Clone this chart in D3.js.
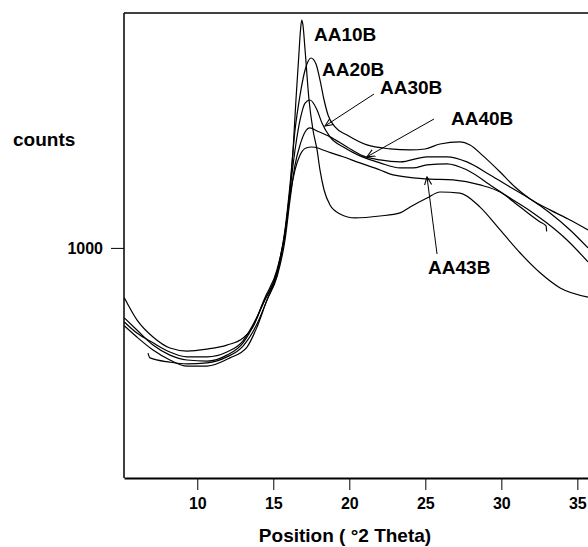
<!DOCTYPE html>
<html>
<head>
<meta charset="utf-8">
<script src="https://cdn.jsdelivr.net/npm/d3@7"></script>
<style>
    html, body { margin: 0; padding: 0; background: #fff; }
    svg { display: block; }
    text { font-family: "Liberation Sans", Arial, sans-serif; font-weight: bold; fill: #000; }
</style>
</head>
<body>
<div class="chart-container"></div>
<script>
// [2theta, counts]
const aa10b = [[5.2,707],[6.03,666],[7.09,618],[8.20,588],[9.32,574],[10.64,571],[11.95,588],[13.01,625],[13.80,693],[14.45,781],[15.24,897],[15.77,1082],[16.10,1332],[16.30,1624],[16.49,2080],[16.66,2535],[16.79,2941],[16.87,3091],[16.95,3015],[17.09,2664],[17.35,2080],[17.61,1793],[17.88,1624],[18.07,1471],[18.34,1332],[18.73,1237],[19.39,1183],[20.38,1160],[22.02,1171],[23.34,1189],[24.00,1224],[25.11,1280],[25.97,1319],[27.28,1312],[28.60,1224],[29.92,1093],[31.24,975],[32.55,884],[33.87,820],[35.70,784]];
const aa20b = [[5.2,781],[6.03,700],[7.09,643],[8.20,609],[9.32,600],[10.64,606],[11.95,618],[13.01,640],[13.66,676],[14.32,761],[15.24,884],[15.77,1093],[16.10,1366],[16.43,1793],[16.76,2131],[17.09,2413],[17.48,2561],[17.81,2485],[18.07,2297],[18.34,2080],[18.60,1931],[19.06,1820],[19.85,1749],[21.16,1665],[22.68,1633],[24.00,1624],[24.98,1632],[25.97,1673],[27.28,1690],[27.94,1665],[28.80,1577],[29.92,1456],[30.90,1352],[31.90,1274],[33.20,1207],[34.52,1148],[35.70,1093]];
const aa30b = [[5.2,693],[6.03,656],[7.09,625],[8.20,597],[9.32,583],[10.64,583],[11.95,597],[13.01,631],[13.73,690],[14.45,773],[15.24,888],[15.77,1077],[16.10,1332],[16.43,1624],[16.76,1884],[17.09,2049],[17.41,2080],[17.88,1979],[18.20,1856],[18.73,1733],[19.72,1640],[20.70,1577],[22.02,1523],[23.34,1486],[24.19,1486],[25.11,1508],[26.43,1516],[27.74,1471],[29.46,1352],[30.77,1268],[32.09,1189],[33.00,1131],[34.32,1040],[35.70,933]];
const aa40b = [[5.2,680],[6.03,643],[7.09,603],[8.20,574],[9.32,557],[10.64,557],[12.15,580],[13.27,612],[13.93,676],[14.59,773],[15.24,866],[15.77,1040],[16.10,1268],[16.43,1508],[16.76,1665],[17.09,1775],[17.41,1811],[17.88,1784],[18.73,1733],[19.85,1648],[20.90,1577],[22.02,1546],[23.34,1531],[25.11,1570],[26.43,1570],[27.74,1531],[29.26,1435],[30.57,1352],[31.90,1274],[33.20,1189],[34.52,1093],[35.70,1000]];
const aa43b = [[6.76,594],[6.89,580],[8.20,568],[9.32,563],[10.64,566],[11.95,583],[13.01,615],[13.86,679],[14.59,773],[15.24,875],[15.77,1066],[16.10,1299],[16.43,1471],[16.76,1584],[17.15,1640],[17.53,1648],[17.94,1640],[18.27,1624],[19.59,1570],[20.70,1523],[22.02,1471],[22.88,1435],[25.11,1407],[26.82,1400],[28.60,1366],[29.92,1319],[31.24,1224],[32.55,1137],[32.94,1115],[32.98,1085]];

const seriesNames = ["AA10B", "AA20B", "AA30B", "AA40B", "AA43B"];
const seriesData = [aa10b, aa20b, aa30b, aa40b, aa43b];

const xTicks = [10, 15, 20, 25, 30, 35];
const yTicks = [1000];

// label anchor [2theta, counts] per series
const labelAt = [[17.68,2785],[18.20,2342],[22.02,2142],[26.69,1838],[25.18,879]];
// arrows: from, to (null = no arrow)
const arrowFrom = [null, null, [21.62,2142], [25.57,1893], [25.77,970]];
const arrowTo = [null, null, [18.40,1829], [21.16,1570], [25.11,1421]];

const width = 588, height = 547;
const plotLeft = 124, plotRight = 588, plotTop = 13, plotBottom = 478;

const svg = d3.select(".chart-container")
    .append("svg")
    .attr("width", width)
    .attr("height", height);

const x = d3.scaleLinear().domain([5.18, 35.7]).range([plotLeft, plotRight]);
const y = d3.scaleLog().domain([320, 3200]).range([plotBottom, plotTop]);

svg.append("defs").append("marker")
    .attr("id", "head")
    .attr("viewBox", "0 0 10 10")
    .attr("refX", 9)
    .attr("refY", 5)
    .attr("markerWidth", 9)
    .attr("markerHeight", 9)
    .attr("markerUnits", "userSpaceOnUse")
    .attr("orient", "auto")
    .append("path")
    .attr("d", "M0,1 L9,5 L0,9")
    .attr("fill", "none")
    .attr("stroke", "#000")
    .attr("stroke-width", 1.2);

// frame: top line
svg.append("line")
    .attr("x1", plotLeft).attr("x2", plotRight)
    .attr("y1", plotTop).attr("y2", plotTop)
    .attr("stroke", "#000")
    .attr("stroke-width", 1.5);

const xAxis = svg.append("g")
    .attr("transform", "translate(0," + plotBottom + ")")
    .call(d3.axisBottom(x).tickValues(xTicks).tickSize(12).tickSizeOuter(0).tickPadding(8));
xAxis.select(".domain").attr("stroke-width", 2);
xAxis.selectAll("text")
    .style("font-size", "16px")
    .attr("fill", "#000");

const yAxis = svg.append("g")
    .attr("transform", "translate(" + plotLeft + ",0)")
    .call(d3.axisLeft(y).tickValues(yTicks).tickFormat(d3.format("d")).tickSize(13).tickSizeOuter(0).tickPadding(8));
yAxis.select(".domain").attr("d", "M0," + plotTop + "V" + plotBottom).attr("stroke-width", 1.5);
yAxis.selectAll("text")
    .style("font-size", "16px")
    .attr("fill", "#000");

svg.append("text")
    .attr("x", 13)
    .attr("y", 146)
    .style("font-size", "19px")
    .text("counts");

svg.append("text")
    .attr("x", 345)
    .attr("y", 542)
    .attr("text-anchor", "middle")
    .style("font-size", "19px")
    .text("Position ( \u00b02 Theta)");

const line = d3.line()
    .x(d => x(d[0]))
    .y(d => y(d[1]))
    .curve(d3.curveMonotoneX);

svg.append("g")
    .selectAll("path")
    .data(seriesData)
    .enter()
    .append("path")
    .attr("d", line)
    .attr("fill", "none")
    .attr("stroke", "#000")
    .attr("stroke-width", 1.2);

seriesNames.forEach((name, i) => {
    if (arrowFrom[i]) {
        svg.append("line")
            .attr("x1", x(arrowFrom[i][0])).attr("y1", y(arrowFrom[i][1]))
            .attr("x2", x(arrowTo[i][0])).attr("y2", y(arrowTo[i][1]))
            .attr("stroke", "#000")
            .attr("stroke-width", 1)
            .attr("marker-end", "url(#head)");
    }
    svg.append("text")
        .attr("x", x(labelAt[i][0]))
        .attr("y", y(labelAt[i][1]))
        .style("font-size", "19px")
        .text(name);
});
</script>
</body>
</html>
